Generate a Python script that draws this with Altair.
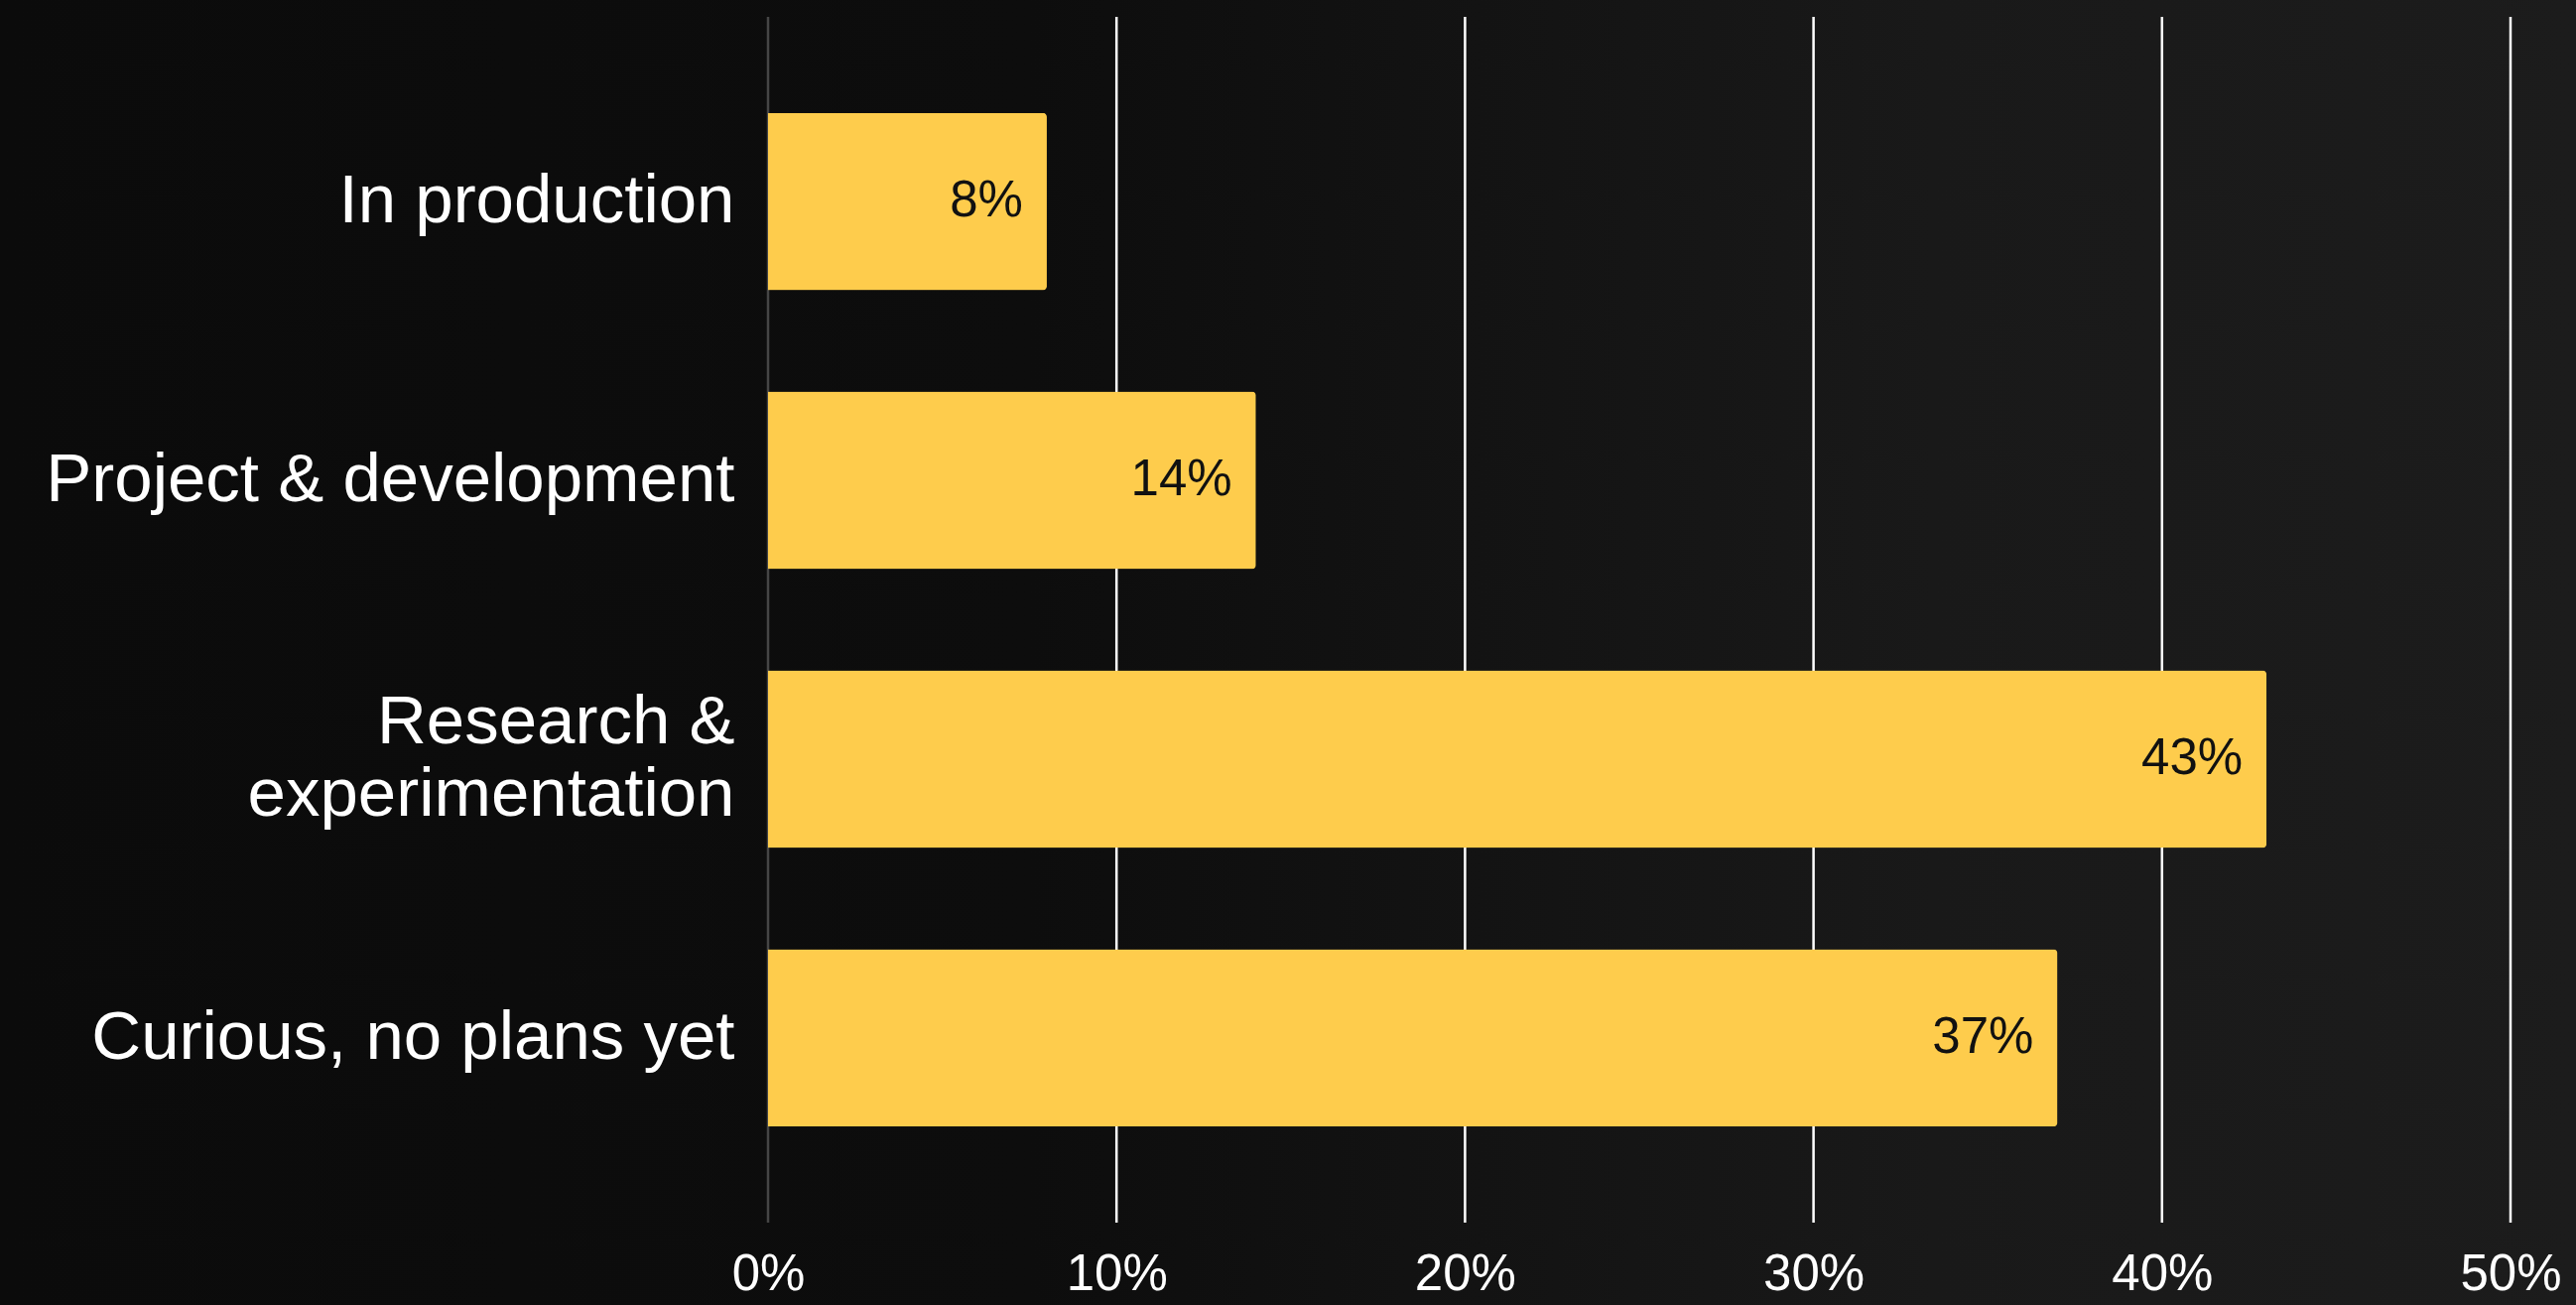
import altair as alt
import pandas as pd

categories = ["In production", "Project & development", "Research & experimentation", "Curious, no plans yet"]
values = [8, 14, 43, 37]
labels = ["8%", "14%", "43%", "37%"]
ticks = [0, 10, 20, 30, 40, 50]

df = pd.DataFrame({"cat": categories, "val": values, "lab": labels})
tick_df = pd.DataFrame({"t": ticks})

W, H = 1756, 1215
PAD = {"left": 774, "top": 17, "right": 66, "bottom": 83}
FONT = "Liberation Sans"

bg = alt.Chart(alt.Data(values=[{"a": 1}])).mark_rect(
    fill={
        "gradient": "linear", "x1": 0, "x2": 1, "y1": 0, "y2": 0,
        "stops": [
            {"offset": 0, "color": "#0b0b0b"},
            {"offset": 0.4, "color": "#0d0d0d"},
            {"offset": 0.75, "color": "#191919"},
            {"offset": 1, "color": "#1c1c1c"},
        ],
    }
).encode(
    x=alt.value(-PAD["left"]), x2=alt.value(W + PAD["right"]),
    y=alt.value(-PAD["top"]), y2=alt.value(H + PAD["bottom"]),
)

xscale = alt.Scale(domain=[0, 50], nice=False)
yscale = alt.Scale(domain=categories, paddingInner=0.363, paddingOuter=0.344)

grid = alt.Chart(tick_df).mark_rule(strokeWidth=2.5).encode(
    x=alt.X("t:Q", scale=xscale, axis=alt.Axis(
        values=ticks, grid=False, domain=False, ticks=False, zindex=1,
        labelExpr="datum.value + '%'", labelFontSize=51, labelColor="white",
        labelFont=FONT, labelPadding=27, title=None, labelFlush=False)),
    color=alt.condition(alt.datum.t == 0, alt.value("#454545"), alt.value("#ffffff")),
)

bars = alt.Chart(df).mark_bar(color="#FECC4C", cornerRadiusEnd=4).encode(
    x=alt.X("val:Q", scale=xscale),
    y=alt.Y("cat:N", scale=yscale, sort=categories, axis=alt.Axis(
        domain=False, ticks=False, grid=False, title=None, zindex=1,
        labelFontSize=69, labelColor="white", labelFont=FONT,
        labelPadding=34, labelLimit=0, labelLineHeight=73,
        labelOffset=alt.condition("datum.value === 'Research & experimentation'", alt.value(-37), alt.value(0)),
        labelExpr="datum.label === 'Research & experimentation' ? ['Research &', 'experimentation'] : datum.label")),
)

text = alt.Chart(df).mark_text(
    align="right", baseline="middle", dx=-24, fontSize=51, font=FONT, color="#111111"
).encode(
    x=alt.X("val:Q", scale=xscale),
    y=alt.Y("cat:N", scale=yscale, sort=categories),
    text="lab:N",
)

chart = alt.layer(bg, grid, bars, text).properties(
    width=W, height=H,
    padding=PAD,
    autosize=alt.AutoSizeParams(type="none"),
    background="#0b0b0b",
).configure_view(stroke=None)

chart.save("out.html", embed_options={"renderer": "svg", "actions": False})
